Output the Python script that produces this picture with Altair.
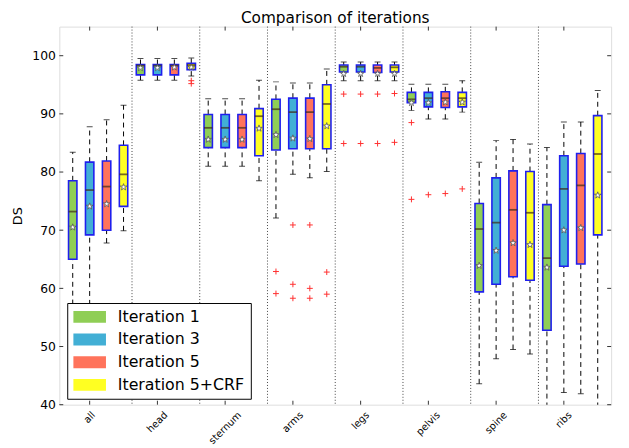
import altair as alt
import pandas as pd

categories = ["all", "head", "sternum", "arms", "legs", "pelvis", "spine", "ribs"]
series = ["Iteration 1", "Iteration 3", "Iteration 5", "Iteration 5+CRF"]
colors = ["#8fce55", "#42afd5", "#ff735b", "#ffff22"]

# per series: one value per category (all, head, sternum, arms, legs, pelvis, spine, ribs)
whislo = {
    "Iteration 1":     [45.0, 95.8, 81.0, 72.1, 95.7, 90.6, 43.6, 38.0],
    "Iteration 3":     [48.0, 95.8, 81.0, 79.6, 95.7, 89.1, 47.9, 42.1],
    "Iteration 5":     [67.8, 95.8, 81.0, 79.0, 95.7, 89.1, 49.5, 41.9],
    "Iteration 5+CRF": [69.9, 96.5, 78.5, 80.1, 95.7, 90.3, 48.7, 38.0],
}
q1 = {
    "Iteration 1":     [65.0, 96.7, 84.2, 83.8, 97.2, 91.9, 59.4, 52.8],
    "Iteration 3":     [69.2, 96.7, 84.2, 84.0, 97.2, 91.2, 60.7, 63.8],
    "Iteration 5":     [70.0, 96.7, 84.2, 84.0, 97.1, 91.1, 62.0, 64.2],
    "Iteration 5+CRF": [74.1, 97.6, 82.8, 84.0, 97.2, 91.2, 61.4, 69.2],
}
median = {
    "Iteration 1":     [73.2, 98.3, 87.6, 90.8, 98.1, 92.5, 70.2, 65.2],
    "Iteration 3":     [76.9, 98.3, 87.6, 90.3, 98.1, 92.7, 71.3, 77.1],
    "Iteration 5":     [77.5, 98.3, 87.6, 90.3, 97.9, 92.7, 73.5, 77.7],
    "Iteration 5+CRF": [79.6, 98.4, 89.6, 91.7, 98.0, 92.7, 73.0, 83.1],
}
q3 = {
    "Iteration 1":     [78.5, 98.5, 89.9, 92.5, 98.4, 93.7, 74.6, 74.4],
    "Iteration 3":     [81.7, 98.5, 89.9, 92.7, 98.4, 93.7, 79.0, 82.8],
    "Iteration 5":     [81.9, 98.5, 89.9, 92.7, 98.4, 93.8, 80.2, 83.2],
    "Iteration 5+CRF": [84.6, 98.7, 90.9, 95.0, 98.4, 93.7, 80.1, 89.7],
}
whishi = {
    "Iteration 1":     [83.4, 99.5, 92.6, 95.5, 98.9, 95.1, 81.7, 84.2],
    "Iteration 3":     [87.8, 99.5, 92.6, 95.3, 98.9, 95.1, 85.4, 88.6],
    "Iteration 5":     [89.0, 99.5, 92.6, 95.3, 98.9, 95.1, 85.6, 88.6],
    "Iteration 5+CRF": [91.5, 99.6, 95.8, 97.7, 98.9, 95.7, 84.8, 94.0],
}
mean = {
    "Iteration 1":     [70.5, 97.9, 85.6, 86.4, 96.9, 91.9, 63.9, 63.6],
    "Iteration 3":     [74.1, 97.9, 85.6, 85.8, 96.9, 91.9, 66.5, 70.0],
    "Iteration 5":     [74.5, 98.0, 85.6, 85.7, 96.9, 92.0, 67.8, 70.4],
    "Iteration 5+CRF": [77.4, 98.0, 87.5, 87.9, 96.9, 92.0, 67.5, 76.0],
}

out_series = (["Iteration 1"] * 6 + ["Iteration 3"] * 6 + ["Iteration 5"] * 6
              + ["Iteration 5+CRF"] * 7)
out_cat = (["arms", "arms", "legs", "legs", "pelvis", "pelvis"]
           + ["arms", "arms", "arms", "legs", "legs", "pelvis"]
           + ["arms", "arms", "arms", "legs", "legs", "pelvis"]
           + ["head", "head", "arms", "arms", "legs", "legs", "pelvis"])
out_val = ([62.9, 59.1, 93.4, 84.9, 88.5, 75.3]
           + [70.9, 60.7, 58.3, 93.4, 84.9, 76.1]
           + [70.9, 60.0, 58.3, 93.4, 84.9, 76.3]
           + [95.7, 95.2, 62.8, 59.0, 93.5, 85.1, 77.1])

yticks = [40, 50, 60, 70, 80, 90, 100]

# ---- tables built from the arrays ----
rows = []
for ci, c in enumerate(categories):
    for si, s in enumerate(series):
        rows.append(dict(cat=c, series=s, pos=4 * ci + si + 1,
                         wlo=whislo[s][ci], q1=q1[s][ci], med=median[s][ci],
                         q3=q3[s][ci], whi=whishi[s][ci], mean=mean[s][ci]))
boxes = pd.DataFrame(rows)
outl = pd.DataFrame(dict(series=out_series, cat=out_cat, val=out_val))
outl["pos"] = [4 * categories.index(c) + series.index(s) + 1
               for c, s in zip(out_cat, out_series)]
xtick_pos = [4 * i + 2 for i in range(len(categories))]
seps = pd.DataFrame(dict(sep=[4 * i + 4.5 for i in range(len(categories) - 1)]))
ytick_df = pd.DataFrame(dict(v=yticks))
xtick_df = pd.DataFrame(dict(t=xtick_pos))

W, H = 559, 383
FONT = "DejaVu Sans"
STAR = ("M0,-1L0.2245,-0.309L0.951,-0.309L0.3633,0.118L0.5878,0.809L0,0.382"
        "L-0.5878,0.809L-0.3633,0.118L-0.951,-0.309L-0.2245,-0.309Z")
LEGEND_PATCH = "M-2.2,-0.8H2.2V0.8H-2.2Z"

# horizontal shift of each rotated label so its box is centred on its tick
label_shift = [4.1, 8.8, 14.8, 8.9, 7.3, 10.3, 9.5, 6.5]

xscale = alt.Scale(domain=[0.5, 32.5], nice=False, zero=False)
yscale = alt.Scale(domain=[40, 105], nice=False, zero=False)
xaxis = alt.Axis(title=None, values=xtick_pos, labels=False, domain=False,
                 ticks=False, grid=False)
yaxis = alt.Axis(title="DS", values=yticks, domain=False, ticks=False, grid=False,
                 labelFontSize=12.5, labelFont=FONT, labelColor="black", labelPadding=4,
                 titleFont=FONT, titleFontSize=13, titleFontWeight="normal",
                 titleColor="black", titlePadding=7)


def X(f):
    return alt.X(f, type="quantitative", scale=xscale, axis=xaxis)


def Y(f):
    return alt.Y(f, type="quantitative", scale=yscale, axis=yaxis)


base = alt.Chart(boxes)

sep_layer = alt.Chart(seps).mark_rule(color="#444", strokeDash=[1, 2], strokeWidth=1).encode(x=X("sep"))

wl = base.mark_rule(color="black", strokeDash=[5, 4], strokeWidth=1, clip=True).encode(
    x=X("pos"), y=Y("wlo"), y2=alt.Y2("q1"))
wh = base.mark_rule(color="black", strokeDash=[5, 4], strokeWidth=1, clip=True).encode(
    x=X("pos"), y=Y("q3"), y2=alt.Y2("whi"))
cap_lo = base.mark_tick(orient="horizontal", size=6, thickness=1, color="black", clip=True).encode(
    x=X("pos"), y=Y("wlo"))
cap_hi = base.mark_tick(orient="horizontal", size=6, thickness=1, color="black", clip=True).encode(
    x=X("pos"), y=Y("whi"))

box = base.mark_bar(size=8.5, stroke="#1f1fee", strokeWidth=1.6, opacity=1).encode(
    x=X("pos"), y=Y("q1"), y2=alt.Y2("q3"),
    color=alt.Color("series:N",
                    scale=alt.Scale(domain=series, range=colors),
                    legend=alt.Legend(title=None, orient="none", legendX=8, legendY=280,
                                      fillColor="white", strokeColor="black", padding=6,
                                      symbolType=LEGEND_PATCH, symbolSize=225,
                                      symbolOffset=8.75,
                                      symbolStrokeWidth=0, symbolOpacity=1,
                                      labelFontSize=16, labelFont=FONT, labelColor="black",
                                      labelOffset=20.5, rowPadding=7, zindex=1)))
med_layer = base.mark_tick(orient="horizontal", size=8.5, thickness=1.8, color="#3d2a16").encode(
    x=X("pos"), y=Y("med"))
mean_layer = base.mark_point(shape=STAR, filled=True, fill="white", stroke="#555",
                             strokeWidth=0.8, size=50, opacity=1).encode(x=X("pos"), y=Y("mean"))
out_layer = alt.Chart(outl).mark_point(shape="M-1,0H1M0,-1V1", filled=False, stroke="#ff3030",
                                       strokeWidth=1, size=36, opacity=1).encode(
    x=X("pos"), y=Y("val"))

tick_l = alt.Chart(ytick_df).mark_rule(color="#333").encode(y=Y("v"), x=alt.value(0), x2=alt.value(4))
tick_r = alt.Chart(ytick_df).mark_rule(color="#333").encode(y=Y("v"), x=alt.value(W - 4), x2=alt.value(W))
tick_t = alt.Chart(xtick_df).mark_rule(color="#333").encode(x=X("t"), y=alt.value(0), y2=alt.value(4))
tick_b = alt.Chart(xtick_df).mark_rule(color="#333").encode(x=X("t"), y=alt.value(H - 4), y2=alt.value(H))

label_layers = []
for i, c in enumerate(categories):
    d = label_shift[i] * 0.7071
    lab = alt.Chart(pd.DataFrame(dict(t=[xtick_pos[i]], name=[c]))).mark_text(
        angle=315, align="right", baseline="middle", font=FONT, fontSize=10,
        color="black", dx=d, dy=d).encode(x=X("t"), y=alt.value(H + 9), text="name:N")
    label_layers.append(lab)

chart = alt.layer(sep_layer, wl, wh, cap_lo, cap_hi, box, med_layer, mean_layer, out_layer,
                  tick_l, tick_r, tick_t, tick_b, *label_layers).properties(
    width=W, height=H,
    title=alt.TitleParams("Comparison of iterations", font=FONT, fontSize=15.5,
                          fontWeight="normal", color="black", anchor="middle", offset=0),
    autosize=alt.AutoSizeParams(type="none"),
    padding={"left": 52, "top": 16, "right": 10, "bottom": 40},
).configure_view(stroke="#333", strokeWidth=1.3).configure(background="white")

chart.save("out.html", embed_options={"renderer": "svg", "actions": False})
